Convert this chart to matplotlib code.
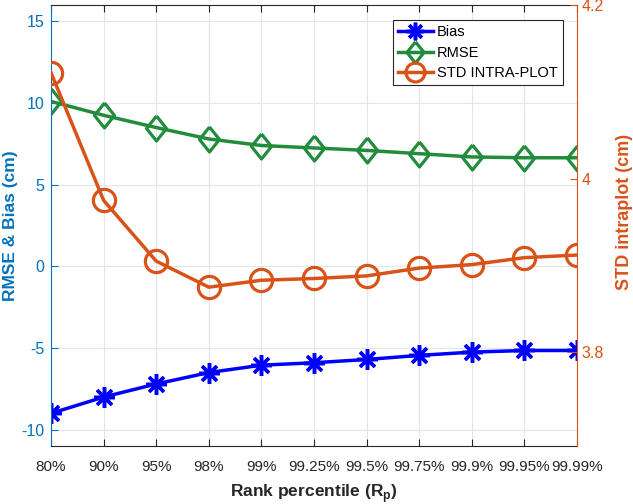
import matplotlib
matplotlib.use("Agg")
import matplotlib.pyplot as plt

plt.rcParams['font.family'] = ['Liberation Sans', 'DejaVu Sans']
plt.rcParams['mathtext.fontset'] = 'custom'
plt.rcParams['mathtext.rm'] = 'Liberation Sans'
plt.rcParams['mathtext.bf'] = 'Liberation Sans:bold'
plt.rcParams['axes.unicode_minus'] = False

percentiles = ['80%', '90%', '95%', '98%', '99%', '99.25%', '99.5%',
               '99.75%', '99.9%', '99.95%', '99.99%']
bias = [-9.0, -8.0, -7.2, -6.5, -6.05, -5.9, -5.7, -5.45, -5.25, -5.15, -5.15]
rmse = [10.1, 9.25, 8.5, 7.8, 7.4, 7.25, 7.1, 6.9, 6.7, 6.65, 6.65]
std_intra = [4.122, 3.975, 3.905, 3.875, 3.883, 3.885, 3.888, 3.897, 3.901, 3.909, 3.912]

blue_ax = (0.0, 0.447, 0.741)
orange = (0.85, 0.325, 0.098)
green = (0.13, 0.55, 0.23)
dark = (0.15, 0.15, 0.15)
x = list(range(len(percentiles)))

# matlab-style diamond, a bit taller than wide
diamond = [(0, 1.25), (1, 0), (0, -1.25), (-1, 0), (0, 1.25)]

fig = plt.figure(figsize=(6.33, 5.04), dpi=100)
ax = fig.add_axes([0.0806, 0.115, 0.831, 0.875])
ax2 = ax.twinx()

l1, = ax.plot(x, bias, color='blue', lw=2.5, marker=(8, 2, 0), ms=15, mew=2.5,
              label='Bias')
l2, = ax.plot(x, rmse, color=green, lw=2.5, marker=diamond, ms=18, mew=2.3,
              mfc='none', label='RMSE')
l3, = ax2.plot(x, std_intra, color=orange, lw=2.5, marker='o', ms=16, mew=2.3,
               mfc='none', label='STD INTRA-PLOT')

ax.set_xlim(0, 10)
ax.set_ylim(-11, 16)
ax.set_yticks([-10, -5, 0, 5, 10, 15])
ax.set_xticks(x)
ax.set_xticklabels(percentiles)
ax.grid(True, color=(0.88, 0.9, 0.93), lw=0.8)
ax.set_axisbelow(True)

ax2.set_ylim(3.692, 4.2)
ax2.set_yticks([3.8, 4.0, 4.2])
ax2.set_yticklabels(['3.8', '4', '4.2'])

ax.tick_params(axis='y', colors=blue_ax, labelsize=11.5, direction='in', length=5, pad=5)
ax.tick_params(axis='x', colors=dark, labelsize=11, direction='in', length=5, top=True, pad=10)
ax2.tick_params(axis='y', colors=orange, labelsize=11.5, direction='in', length=5, pad=3)

for s in ['top', 'bottom']:
    ax.spines[s].set_color(dark)
    ax2.spines[s].set_visible(False)
ax.spines['left'].set_color(blue_ax)
ax2.spines['left'].set_visible(False)
ax.spines['right'].set_visible(False)
ax2.spines['right'].set_color(orange)

ax.set_ylabel('RMSE & Bias (cm)', color=blue_ax, fontsize=12.5, fontweight='bold')
ax.yaxis.set_label_coords(-0.062, 0.5)
ax2.set_ylabel('STD intraplot (cm)', color=orange, fontsize=13, fontweight='bold')
ax2.yaxis.set_label_coords(1.074, 0.53)
ax.set_xlabel(r'Rank percentile (R$_\mathbf{p}$)', color=dark,
              fontsize=12.5, fontweight='bold', labelpad=6)

leg = ax2.legend(handles=[l1, l2, l3], loc='upper right',
                 bbox_to_anchor=(0.973, 0.966), borderaxespad=0,
                 fontsize=10.5, fancybox=False,
                 framealpha=1, edgecolor=dark, borderpad=0.35,
                 labelspacing=0.45, handlelength=2.4, handletextpad=0.3,
                 markerscale=0.85)
leg.get_frame().set_linewidth(0.8)

fig.savefig('out.png', dpi=100)
